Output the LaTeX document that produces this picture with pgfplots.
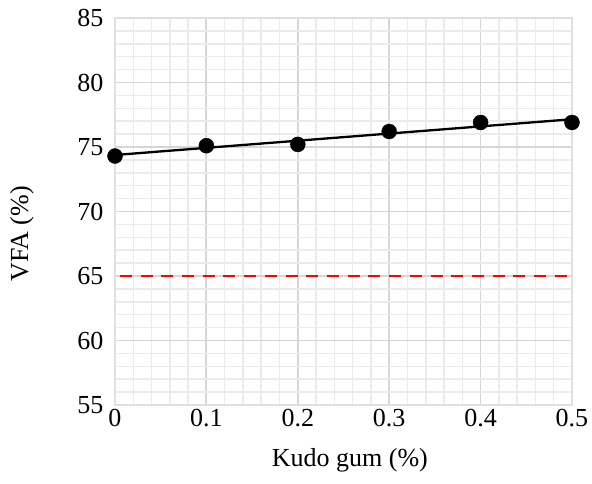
\documentclass[border=0pt]{standalone}
\usepackage{fontspec}
\setmainfont{Liberation Serif}
\usepackage{pgfplots}
\pgfplotsset{compat=1.18}
\begin{document}
\begin{tikzpicture}[x=1pt,y=1pt]
\useasboundingbox (-115,-79) rectangle (477,405);
\begin{axis}[
  at={(0,0)}, anchor=south west,
  scale only axis,
  width=457pt, height=387pt,
  xmin=0, xmax=0.5, ymin=55, ymax=85,
  xtick={0,0.1,0.2,0.3,0.4,0.5},
  xticklabels={0,0.1,0.2,0.3,0.4,0.5},
  ytick={55,60,65,70,75,80,85},
  minor x tick num=4, minor y tick num=4,
  grid=both,
  major grid style={line width=1.8pt, color=black!16},
  minor grid style={line width=1.5pt, color=black!8},
  axis line style={line width=1.5pt, color=black!12},
  major tick length=0pt, minor tick length=0pt,
  tick label style={font=\fontsize{26}{30}\selectfont},
  /pgf/number format/assume math mode=true,
  yticklabel style={anchor=east, xshift=-8pt},
  xticklabel style={anchor=north, yshift=-1pt},
  label style={font=\fontsize{26}{30}\selectfont},
  xlabel={Kudo gum (\%)},
  ylabel={VFA (\%)},
  xlabel style={at={(axis description cs:0.514,-0.142)}, anchor=center},
  ylabel style={at={(axis description cs:-0.2035,0.442)}, anchor=center, rotate=0},
  clip=false,
]
\addplot[red, line width=2.6pt, dash pattern=on 12pt off 8.7pt, dash phase=-5pt, forget plot] coordinates {(0,65) (0.5,65)};
\addplot[black, line width=2.3pt, forget plot] coordinates {(0,74.38) (0.5,77.15)};
\addplot[only marks, mark=*, mark size=7.5pt, black] coordinates {
(0,74.3) (0.1,75.1) (0.2,75.2) (0.3,76.2) (0.4,76.9) (0.5,76.9)};
\end{axis}
\end{tikzpicture}
\end{document}
